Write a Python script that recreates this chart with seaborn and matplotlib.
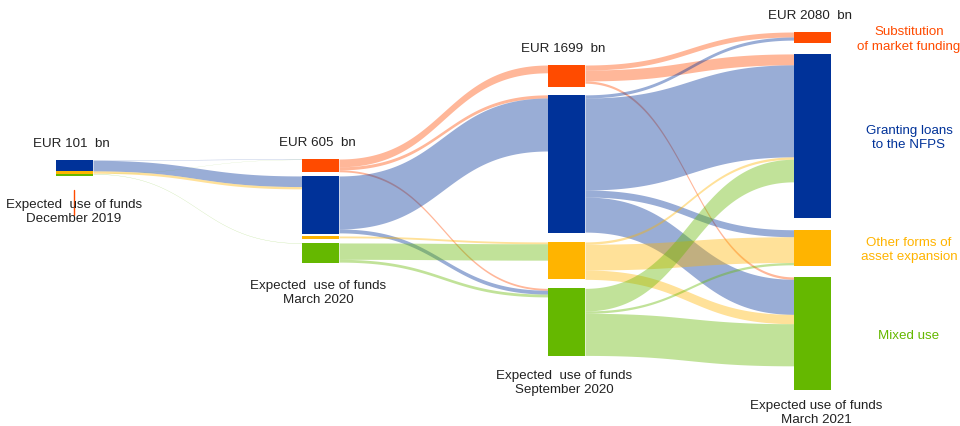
import numpy as np
import matplotlib
matplotlib.use("Agg")
import matplotlib.pyplot as plt
import seaborn as sns

# categories, top to bottom in every column
categories = ["Substitution of market funding", "Granting loans to the NFPS",
              "Other forms of asset expansion", "Mixed use"]
category_labels = ["Substitution\nof market funding", "Granting loans\nto the NFPS",
                   "Other forms of\nasset expansion", "Mixed use"]
stage_labels = ["Expected  use of funds\nDecember 2019",
                "Expected  use of funds\nMarch 2020",
                "Expected  use of funds\nSeptember 2020",
                "Expected use of funds\nMarch 2021"]
stage_totals = [101, 605, 1699, 2080]

# node sizes (EUR bn) per survey round
nodes_dec19 = [0, 70, 17, 14]
nodes_mar20 = [83, 372, 19, 131]
nodes_sep20 = [140, 885, 240, 434]
nodes_mar21 = [70, 1050, 232, 728]

# flows between consecutive rounds (EUR bn), rows = from, columns = to
flows_dec19_mar20 = [[0, 0, 0, 0],
                     [2, 68, 0, 0],
                     [0, 15, 0, 0],
                     [1, 0, 0, 2]]
flows_mar20_sep20 = [[50, 20, 0, 12],
                     [0, 340, 0, 25],
                     [0, 0, 12, 0],
                     [0, 0, 105, 18]]
flows_sep20_mar21 = [[32, 70, 0, 15],
                     [20, 590, 45, 225],
                     [0, 15, 165, 60],
                     [0, 145, 15, 270]]

nodes = [nodes_dec19, nodes_mar20, nodes_sep20, nodes_mar21]
flows = [flows_dec19_mar20, flows_mar20_sep20, flows_sep20_mar21]

colors = ["#FF4B00", "#003299", "#FFB400", "#65B800"]
text_color = "#222222"

# layout (pixels)
PX = 0.156                      # pixels per EUR bn
W, H = 960, 426
node_left = [56, 302, 548, 794]
node_w = 37
stage_top = [160, 159, 65, 32]
stage_gaps = [[0, 0, 0], [4, 2, 4], [8, 9, 9], [11, 12, 11]]
bottom_label_pos = [(74, 212), (318, 293), (564, 383), (816, 413)]
FS = 9.6


def bn(p):
    return p / PX


sns.set_theme(style="white")
plt.rcParams["font.family"] = ["Liberation Sans", "DejaVu Sans"]

fig = plt.figure(figsize=(W / 100, H / 100), dpi=100)
ax = fig.add_axes([0, 0, 1, 1])
ax.set_xlim(0, W)
ax.set_ylim(bn(H), 0)
ax.axis("off")

# node tops in EUR bn units
tops = []
for s, vals in enumerate(nodes):
    y = bn(stage_top[s])
    t = []
    for c, v in enumerate(vals):
        t.append(y)
        y += v
        if c < 3:
            y += bn(stage_gaps[s][c])
    tops.append(t)

# flows as bezier ribbons, stacked by target at the source and by source at the target
tt = np.linspace(0, 1, 120)
for s, mat in enumerate(flows):
    out_off = list(tops[s])
    in_off = list(tops[s + 1])
    x0 = node_left[s] + node_w
    x1 = node_left[s + 1]
    xm = (x0 + x1) / 2
    xs = (1 - tt) ** 3 * x0 + 3 * (1 - tt) ** 2 * tt * xm + 3 * (1 - tt) * tt ** 2 * xm + tt ** 3 * x1
    wy = (1 - tt) ** 3 + 3 * (1 - tt) ** 2 * tt
    for i in range(4):
        for j in range(4):
            v = mat[i][j]
            if v <= 0:
                continue
            y0, y1 = out_off[i], in_off[j]
            top = wy * y0 + (1 - wy) * y1
            ax.fill_between(xs, top, top + v, color=colors[i], alpha=0.4, lw=0)
            out_off[i] += v
            in_off[j] += v

# nodes
for s, vals in enumerate(nodes):
    ax.bar([node_left[s]] * 4, vals, bottom=tops[s], width=node_w,
           align="edge", color=colors, linewidth=0, zorder=3)

# labels
for s in range(4):
    ax.text(node_left[s] + node_w / 2 - 3, tops[s][0] - bn(16),
            f"EUR {stage_totals[s]}  bn", ha="center", va="center",
            fontsize=FS, color=text_color)
    bx, by = bottom_label_pos[s]
    ax.text(bx, bn(by), stage_labels[s], ha="center", va="center",
            fontsize=FS, color=text_color, linespacing=1.2)

for c in range(4):
    yc = tops[3][c] + nodes_mar21[c] / 2 + bn(2)
    ax.text(909, yc, category_labels[c], ha="center", va="center",
            fontsize=FS, color=colors[c], linespacing=1.25)

# small tick under the first column
ax.plot([74, 74], [bn(190), bn(215)], color=colors[0], lw=1)

fig.savefig("out.png", dpi=100, facecolor="white")
